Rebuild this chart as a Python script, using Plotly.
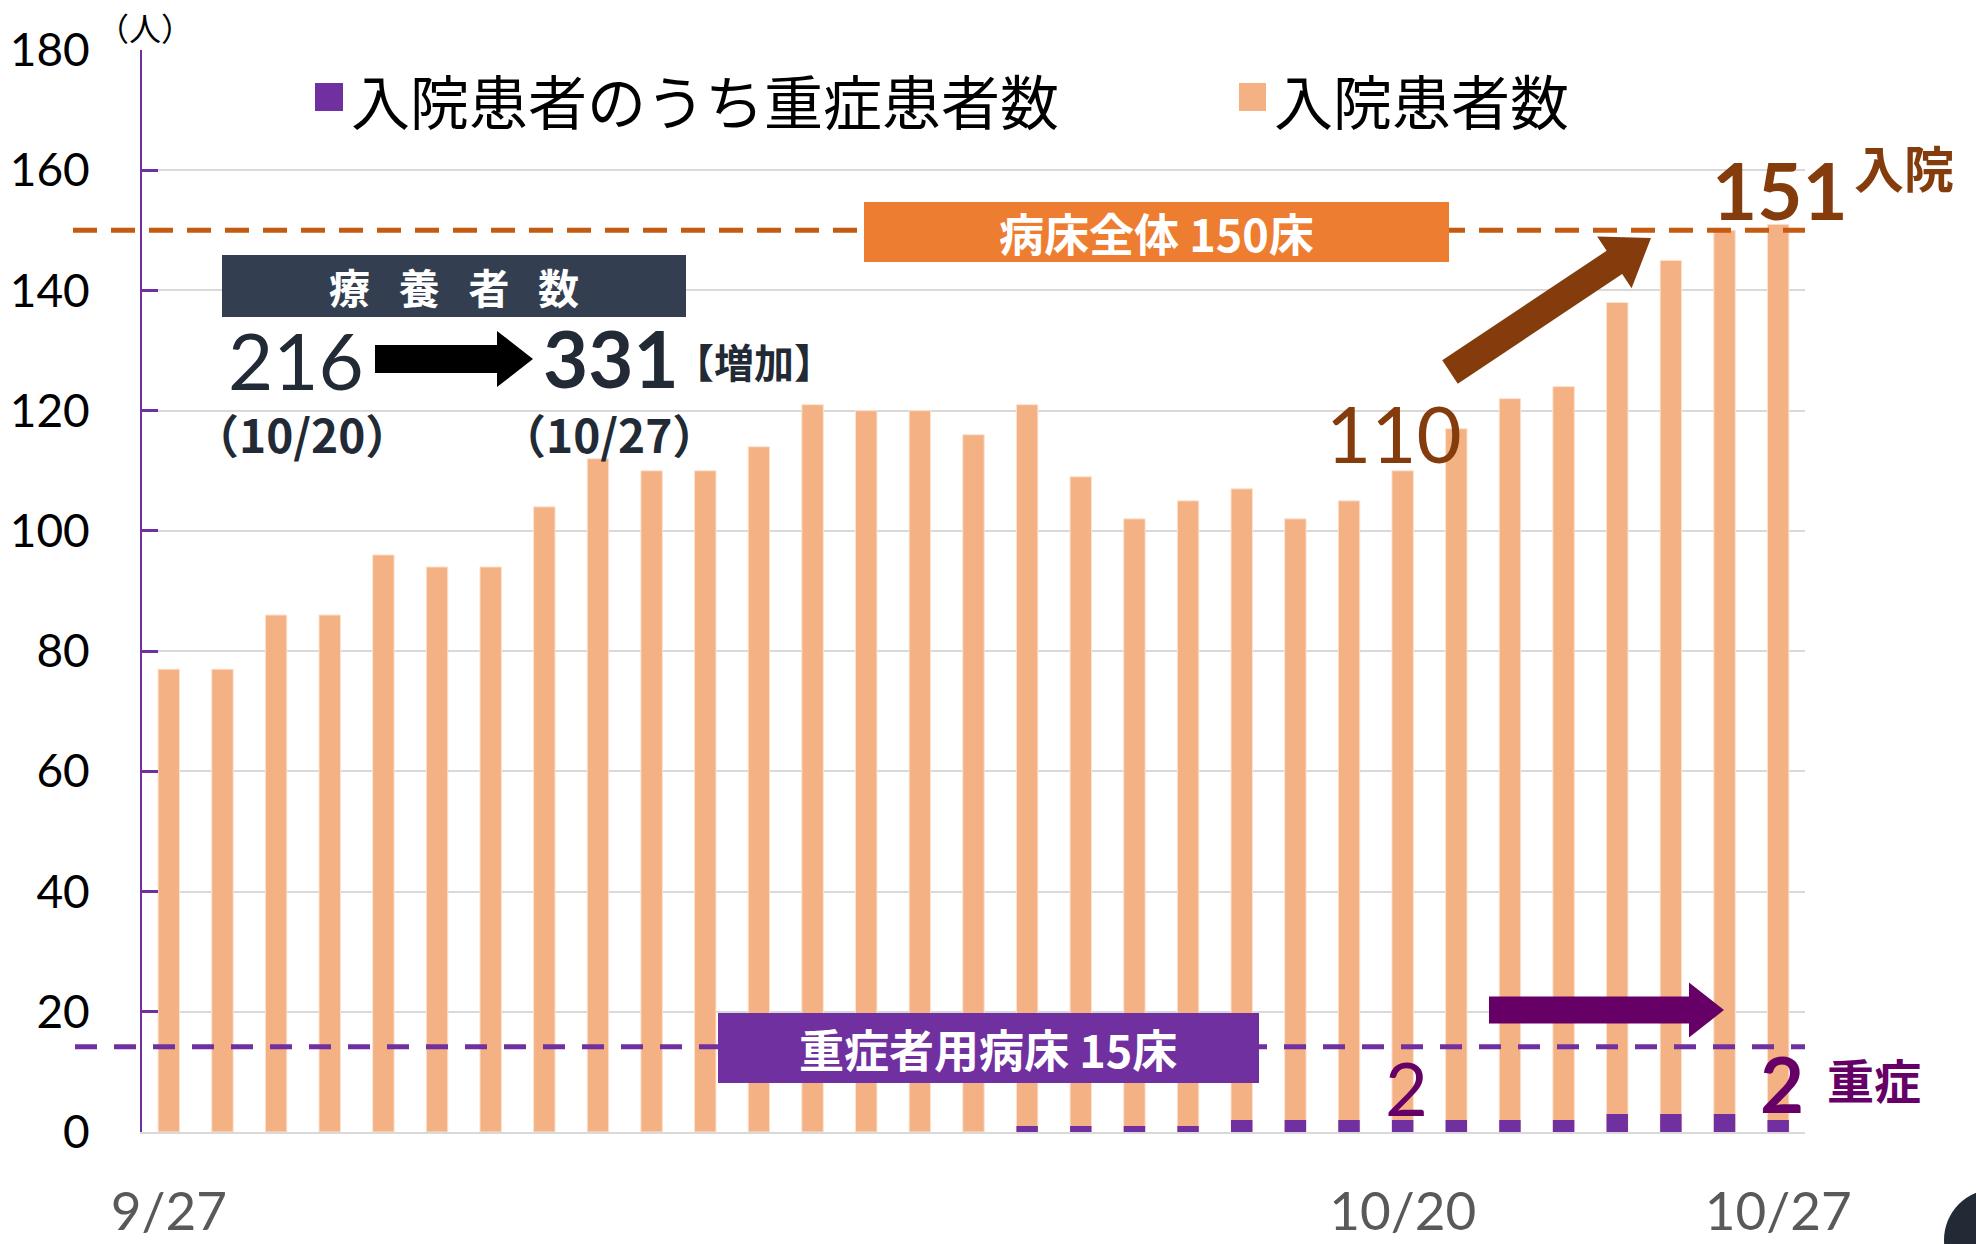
import plotly.graph_objects as go

# ---------------- data ----------------
dates = ["9/27", "9/28", "9/29", "9/30", "10/1", "10/2", "10/3", "10/4", "10/5", "10/6",
         "10/7", "10/8", "10/9", "10/10", "10/11", "10/12", "10/13", "10/14", "10/15", "10/16",
         "10/17", "10/18", "10/19", "10/20", "10/21", "10/22", "10/23", "10/24", "10/25", "10/26",
         "10/27"]
inpatients = [77, 77, 86, 86, 96, 94, 94, 104, 112, 110,
              110, 114, 121, 120, 120, 116, 121, 109, 102, 105,
              107, 102, 105, 110, 117, 122, 124, 138, 145, 150,
              151]
severe = [0, 0, 0, 0, 0, 0, 0, 0, 0, 0,
          0, 0, 0, 0, 0, 0, 1, 1, 1, 1,
          2, 2, 2, 2, 2, 2, 2, 3, 3, 3,
          2]
x_tick_labels = ["9/27", "10/20", "10/27"]
y_ticks = [0, 20, 40, 60, 80, 100, 120, 140, 160, 180]
total_beds = 150
severe_beds_line = 14.2

series_names = ["入院患者のうち重症患者数", "入院患者数"]

# ---------------- layout geometry (pixels) ----------------
FIG_W, FIG_H = 1976, 1244
L, T, R, B = 142, 50, 171, 112
W = FIG_W - L - R
H = FIG_H - T - B


def fx(p):
    return (p - L) / W


def fy(p):
    return (T + H - p) / H


LATIN = "Lato, 'Noto Sans CJK JP', sans-serif"
JP = "'Noto Sans CJK JP', Lato, sans-serif"

ORANGE_BAR = "#f4b183"
PURPLE = "#7030a0"
BROWN = "#843c0c"
DARK_PURPLE = "#660066"
NAVY_TEXT = "#222a35"

fig = go.Figure()
fig.add_trace(go.Bar(x=dates, y=inpatients, name=series_names[1],
                     marker=dict(color=ORANGE_BAR, line=dict(color="#fbe3d2", width=1)),
                     showlegend=False))
fig.add_trace(go.Bar(x=dates, y=severe, name=series_names[0],
                     marker=dict(color=PURPLE, line=dict(width=0)),
                     showlegend=False))

shapes = []
annotations = []


def rect(x0, y0, x1, y1, color):
    shapes.append(dict(type="rect", xref="paper", yref="paper",
                       x0=fx(x0), x1=fx(x1), y0=fy(y1), y1=fy(y0),
                       fillcolor=color, line=dict(width=0), layer="above"))


def text(x, y, s, size, color, font=JP, xanchor="center"):
    annotations.append(dict(x=fx(x), y=fy(y), xref="paper", yref="paper", text=s,
                            showarrow=False, xanchor=xanchor, yanchor="middle",
                            font=dict(size=size, color=color, family=font)))


def arrow(tail, tip, shaft_w, head_w, head_len, color):
    import math
    dx, dy = tip[0] - tail[0], tip[1] - tail[1]
    ln = math.hypot(dx, dy)
    ux, uy = dx / ln, dy / ln
    nx, ny = -uy, ux
    bx, by = tip[0] - ux * head_len, tip[1] - uy * head_len
    pts = [
        (tail[0] + nx * shaft_w / 2, tail[1] + ny * shaft_w / 2),
        (bx + nx * shaft_w / 2, by + ny * shaft_w / 2),
        (bx + nx * head_w / 2, by + ny * head_w / 2),
        tip,
        (bx - nx * head_w / 2, by - ny * head_w / 2),
        (bx - nx * shaft_w / 2, by - ny * shaft_w / 2),
        (tail[0] - nx * shaft_w / 2, tail[1] - ny * shaft_w / 2),
    ]
    path = "M " + " L ".join(f"{fx(px):.5f},{fy(py):.5f}" for px, py in pts) + " Z"
    shapes.append(dict(type="path", xref="paper", yref="paper", path=path,
                       fillcolor=color, line=dict(width=0), layer="above"))


# dashed reference lines
shapes.append(dict(type="line", xref="paper", yref="y", x0=fx(73), x1=1.0,
                   y0=total_beds, y1=total_beds,
                   line=dict(color="#c55a11", width=5, dash="24px,14px"), layer="above"))
shapes.append(dict(type="line", xref="paper", yref="y", x0=fx(75), x1=1.0,
                   y0=severe_beds_line, y1=severe_beds_line,
                   line=dict(color=PURPLE, width=5, dash="22px,17px"), layer="above"))

# legend (drawn manually to match big square markers)
rect(315, 83, 343, 111, PURPLE)
text(349, 99, series_names[0], 59, "#000000", xanchor="left")
rect(1239, 83, 1266, 111, ORANGE_BAR)
text(1272, 99, series_names[1], 59, "#000000", xanchor="left")

# unit
text(145, 27, "（人）", 32, "#000000")

# labelled boxes
rect(864, 202, 1449, 262, "#ed7d31")
text(1156, 232, "<b>病床全体 150床</b>", 45, "#ffffff")
rect(222, 255, 686, 317, "#333f50")
text(454, 286, "<b>療\u2002\u2009養\u2002\u2009者\u2002\u2009数</b>", 41, "#ffffff")
rect(718, 1013, 1259, 1083, PURPLE)
text(988, 1048, "<b>重症者用病床 15床</b>", 45, "#ffffff")

# 療養者数 annotation
text(296, 360, "216", 78, NAVY_TEXT, font=LATIN)
arrow((375, 359), (533, 359), 28, 56, 36, "#000000")
text(611, 358, "<b>331</b>", 78, NAVY_TEXT, font=LATIN)
text(754, 361, "<b>【増加】</b>", 40, NAVY_TEXT)
text(302, 433, "<b>（10/20）</b>", 46, NAVY_TEXT)
text(609, 433, "<b>（10/27）</b>", 46, NAVY_TEXT)

# inpatient growth annotation
text(1394, 433, "110", 78, BROWN, font=LATIN)
arrow((1450, 372), (1651, 238), 28, 62, 44, BROWN)
text(1780, 190, "<b>151</b>", 78, BROWN, font=LATIN)
text(1904, 166, "<b>入院</b>", 50, BROWN)

# severe annotation
arrow((1489, 1010), (1724, 1010), 27, 55, 35, DARK_PURPLE)
text(1406, 1087, "2", 74, DARK_PURPLE, font=LATIN)
text(1782, 1083, "<b>2</b>", 76, DARK_PURPLE, font=LATIN)
text(1874, 1078, "<b>重症</b>", 47, DARK_PURPLE)

# decorative slide circle at bottom right
shapes.append(dict(type="circle", xref="paper", yref="paper",
                   x0=fx(1944), x1=fx(2046), y0=fy(1291), y1=fy(1189),
                   fillcolor="#222a35", line=dict(width=0), layer="above"))

fig.update_layout(
    width=FIG_W, height=FIG_H,
    margin=dict(l=L, r=R, t=T, b=B, pad=0, autoexpand=False),
    paper_bgcolor="#ffffff", plot_bgcolor="#ffffff",
    barmode="overlay", bargap=0.6,
    showlegend=False,
    shapes=shapes, annotations=annotations,
    font=dict(family=LATIN),
    xaxis=dict(type="category", range=[-0.5, len(dates) - 0.5], automargin=False,
               tickmode="array", tickvals=x_tick_labels, ticktext=x_tick_labels,
               ticks="", showgrid=False, showline=True, linecolor="#d9d9d9", linewidth=2,
               tickfont=dict(size=53, color="#595959", family=LATIN),
               ticklabelstandoff=32),
    yaxis=dict(range=[0, 180], tickmode="array", tickvals=y_ticks, automargin=False,
               showgrid=True, gridcolor="#d9d9d9", gridwidth=2, zeroline=False,
               showline=True, linecolor=PURPLE, linewidth=2,
               ticks="inside", ticklen=16, tickwidth=3, tickcolor=PURPLE,
               tickfont=dict(size=46, color="#000000", family=LATIN),
               ticklabelstandoff=41),
)

fig.write_html("out.html", config={"displayModeBar": False},
               post_script="document.body.style.margin='0';")
